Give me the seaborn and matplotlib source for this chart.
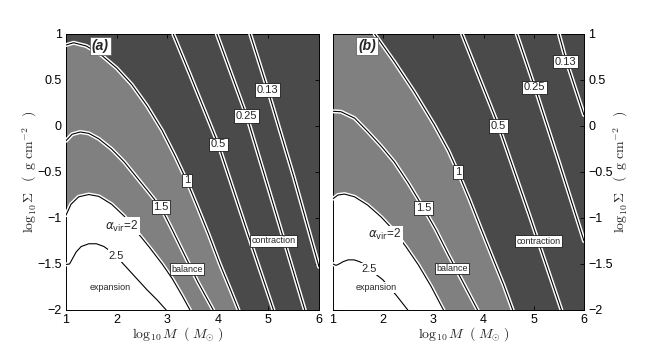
import matplotlib
matplotlib.use("Agg")
import matplotlib.pyplot as plt
import matplotlib.patheffects as pe
import seaborn as sns

sns.set_style("white")
plt.rcParams['font.family'] = ['Liberation Sans', 'DejaVu Sans']
plt.rcParams['mathtext.fontset'] = 'cm'

# ---------------- data ----------------
# panel (a) contour lines: log10 M and log10 Sigma
a1_M = [1.0, 1.15, 1.4, 1.7, 2.0, 2.3, 2.6, 2.9, 3.15, 3.39, 3.6, 3.82, 4.04, 4.25, 4.41]
a1_S = [0.88, 0.905, 0.87, 0.77, 0.63, 0.45, 0.22, -0.05, -0.32, -0.60, -0.88, -1.18, -1.50, -1.78, -2.0]
a15_M = [1.0, 1.12, 1.28, 1.45, 1.65, 1.9, 2.15, 2.4, 2.65, 2.88, 3.1, 3.35, 3.6, 3.91]
a15_S = [-0.16, -0.09, -0.065, -0.08, -0.14, -0.25, -0.39, -0.56, -0.73, -0.89, -1.13, -1.41, -1.69, -2.0]
a2_M = [1.0, 1.1, 1.25, 1.45, 1.65, 1.9, 2.15, 2.4, 2.65, 2.9, 3.1, 3.3, 3.45]
a2_S = [-0.97, -0.85, -0.77, -0.745, -0.765, -0.85, -0.98, -1.15, -1.32, -1.50, -1.66, -1.85, -2.0]
a25_M = [1.0, 1.07, 1.12, 1.2, 1.3, 1.45, 1.6, 1.75, 1.9, 2.05, 2.2, 2.4, 2.6, 2.8, 2.98]
a25_S = [-1.505, -1.50, -1.45, -1.37, -1.31, -1.28, -1.28, -1.31, -1.37, -1.45, -1.54, -1.66, -1.78, -1.89, -2.0]
a05_M = [3.12, 3.45, 4.01, 4.55, 5.10]
a05_S = [1.0, 0.56, -0.20, -1.10, -2.0]
a025_M = [3.98, 4.57, 5.15, 5.72]
a025_S = [1.0, 0.11, -0.95, -2.0]
a013_M = [4.64, 4.99, 5.5, 6.0]
a013_S = [1.0, 0.39, -0.55, -1.53]

# panel (b) contour lines
b1_M = [1.83, 2.22, 2.62, 3.02, 3.3, 3.49, 3.72, 3.95, 4.2, 4.4, 4.58]
b1_S = [1.0, 0.70, 0.37, 0.01, -0.27, -0.50, -0.80, -1.12, -1.46, -1.73, -2.0]
b15_M = [1.0, 1.16, 1.43, 1.69, 1.96, 2.22, 2.5, 2.8, 3.05, 3.3, 3.6, 3.88]
b15_S = [0.16, 0.155, 0.085, -0.06, -0.22, -0.39, -0.62, -0.89, -1.13, -1.40, -1.71, -2.0]
b2_M = [1.0, 1.1, 1.23, 1.43, 1.69, 1.96, 2.2, 2.45, 2.7, 2.95, 3.2]
b2_S = [-0.79, -0.75, -0.74, -0.77, -0.86, -0.99, -1.13, -1.31, -1.51, -1.74, -2.0]
b25_M = [1.0, 1.06, 1.12, 1.2, 1.3, 1.42, 1.53, 1.65, 1.8, 1.99, 2.1, 2.26, 2.49]
b25_S = [-1.50, -1.515, -1.50, -1.475, -1.455, -1.455, -1.475, -1.51, -1.59, -1.67, -1.74, -1.84, -2.0]
b05_M = [3.57, 4.30, 4.9, 5.55]
b05_S = [1.0, 0.0, -0.95, -2.0]
b025_M = [4.66, 5.02, 5.5, 6.0]
b025_S = [1.0, 0.42, -0.39, -1.25]
b013_M = [5.5, 5.64, 6.0]
b013_S = [1.0, 0.72, 0.12]

# contour label texts and positions
a_lab_txt = ["1", "1.5", "0.5", "0.25", "0.13"]
a_lab_M = [3.39, 2.88, 4.01, 4.57, 4.99]
a_lab_S = [-0.59, -0.88, -0.20, 0.11, 0.39]
b_lab_txt = ["1", "1.5", "0.5", "0.25", "0.13"]
b_lab_M = [3.49, 2.80, 4.30, 5.02, 5.64]
b_lab_S = [-0.50, -0.89, 0.00, 0.42, 0.70]

region_txt = ["expansion", "balance", "contraction"]
a_reg_M = [1.87, 3.385, 5.10]
a_reg_S = [-1.75, -1.555, -1.247]
b_reg_M = [1.86, 3.37, 5.10]
b_reg_S = [-1.755, -1.55, -1.25]

a_alpha_pos = (2.10, -1.09)
a_25_pos = (2.00, -1.41)
b_alpha_pos = (2.03, -1.18)
b_25_pos = (1.72, -1.555)

x_ticks = [1, 2, 3, 4, 5, 6]
y_ticks = [-2, -1.5, -1, -0.5, 0, 0.5, 1]
y_ticklabels = ["\u22122", "\u22121.5", "\u22121", "\u22120.5", "0", "0.5", "1"]

DARK = "#4a4a4a"
GREY = "#808080"


def contour_line(ax, xs, ys):
    sns.lineplot(x=xs, y=ys, sort=False, estimator=None, color="black",
                 lw=0.8, ax=ax, zorder=3)
    ln = ax.lines[-1]
    ln.set_path_effects([pe.Stroke(linewidth=2.9, foreground="white"), pe.Normal()])


def panel(ax, c1, c15, c2, c25, c05, c025, c013, top_left_grey,
          labM, labS, labT, regM, regS, alpha_pos, p25_pos, tag):
    ax.set_facecolor(DARK)
    # grey region: below alpha=1 curve
    gx = [1.0] + ([1.0] if top_left_grey else []) + list(c1[0]) + [c1[0][-1]]
    gy = [-2.0] + ([1.0] if top_left_grey else []) + list(c1[1]) + [-2.0]
    ax.fill(gx, gy, color=GREY, lw=0, zorder=1)
    # white region: below alpha=2 curve
    wx = [1.0] + list(c2[0]) + [c2[0][-1]]
    wy = [-2.0] + list(c2[1]) + [-2.0]
    ax.fill(wx, wy, color="white", lw=0, zorder=1.1)
    for c in (c1, c15, c2, c25, c05, c025, c013):
        contour_line(ax, c[0], c[1])
    box = dict(boxstyle="square,pad=0.15", fc="white", ec="black", lw=0.5)
    for t, x, y in zip(labT, labM, labS):
        ax.text(x, y, t, fontsize=8, ha="center", va="center", bbox=box, zorder=5)
    nobox = dict(boxstyle="square,pad=0.12", fc="white", ec="none")
    for t, x, y in zip(region_txt, regM, regS):
        ax.text(x, y, t, fontsize=6.5, ha="center", va="center",
                bbox=(nobox if t == "expansion" else box), zorder=5)
    ax.text(alpha_pos[0], alpha_pos[1], r"$\alpha_{\mathrm{vir}}$=2", fontsize=8.5,
            ha="center", va="center", bbox=nobox, zorder=5,
            math_fontfamily="dejavusans")
    ax.text(p25_pos[0], p25_pos[1], "2.5", fontsize=8, ha="center", va="center",
            bbox=nobox, zorder=5)
    ax.text(1.68, 0.87, tag, fontsize=10, fontweight="bold", style="italic",
            ha="center", va="center", zorder=6,
            bbox=dict(boxstyle="square,pad=0.15", fc="white", ec="#555555", lw=0.5))
    ax.set_xlim(1, 6)
    ax.set_ylim(-2, 1)
    ax.set_xticks(x_ticks)
    ax.set_xticklabels([str(v) for v in x_ticks])
    ax.set_yticks(y_ticks)
    ax.set_yticklabels(y_ticklabels)
    ax.tick_params(direction="in", length=3, width=0.6, top=True, right=True,
                   left=True, bottom=True, labelsize=9, colors="black")
    ax.tick_params(axis="x", pad=3)
    ax.tick_params(axis="y", pad=3)
    for s in ax.spines.values():
        s.set_linewidth(0.7)
        s.set_color("black")
    ax.set_xlabel("")
    ax.set_ylabel("")


fig = plt.figure(figsize=(6.64, 3.45), dpi=100)
ax_a = fig.add_axes([66 / 664, 1 - 310 / 345, (319 - 66) / 664, 276 / 345])
ax_b = fig.add_axes([333 / 664, 1 - 310 / 345, (584 - 333) / 664, 276 / 345])

panel(ax_a, (a1_M, a1_S), (a15_M, a15_S), (a2_M, a2_S), (a25_M, a25_S),
      (a05_M, a05_S), (a025_M, a025_S), (a013_M, a013_S), False,
      a_lab_M, a_lab_S, a_lab_txt, a_reg_M, a_reg_S, a_alpha_pos, a_25_pos, "(a)")
panel(ax_b, (b1_M, b1_S), (b15_M, b15_S), (b2_M, b2_S), (b25_M, b25_S),
      (b05_M, b05_S), (b025_M, b025_S), (b013_M, b013_S), True,
      b_lab_M, b_lab_S, b_lab_txt, b_reg_M, b_reg_S, b_alpha_pos, b_25_pos, "(b)")

ax_b.tick_params(labelleft=False, labelright=True)

xlab = r"$\log_{10}M\;\;(\;M_{\odot}\;)$"
ylab = r"$\log_{10}\Sigma\;\;\;(\;\;\mathrm{g\ cm^{-2}}\;\;\;)$"
fig.text(178 / 664, 1 - 334 / 345, xlab, fontsize=10, ha="center", va="center")
fig.text(464 / 664, 1 - 334 / 345, xlab, fontsize=10, ha="center", va="center")
fig.text(30 / 664, 1 - 172 / 345, ylab, fontsize=10, ha="center", va="center", rotation=90)
fig.text(621 / 664, 1 - 172 / 345, ylab, fontsize=10, ha="center", va="center", rotation=90)

fig.savefig("out.png", dpi=100, facecolor="white")
